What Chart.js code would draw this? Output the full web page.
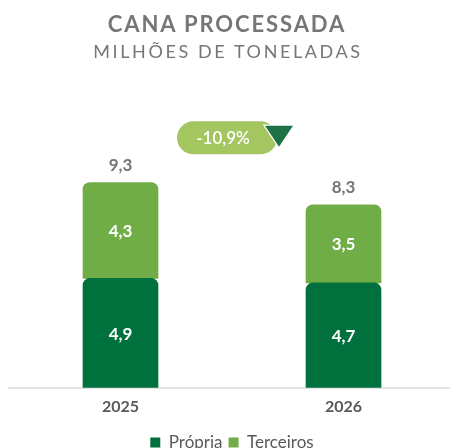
<!DOCTYPE html>
<html><head><meta charset="utf-8">
<script src="https://cdn.jsdelivr.net/npm/chart.js@4.4.1/dist/chart.umd.min.js"></script>
<style>
html,body{margin:0;padding:0;background:#fff;}
#wrap{position:relative;width:450px;height:448px;overflow:hidden;}
#t1{position:absolute;left:0;width:454px;top:10px;text-align:center;font-family:Lato,sans-serif;font-weight:700;font-size:22px;letter-spacing:1.9px;color:#767676;line-height:28px;}
#t2{position:absolute;left:0;width:456px;top:38px;text-align:center;font-family:Lato,sans-serif;font-weight:400;font-size:18px;letter-spacing:2.6px;color:#767676;line-height:26px;}
canvas{position:absolute;left:0;top:0;}
</style></head>
<body><div id="wrap">
<canvas id="c" width="460" height="448"></canvas>
<div id="t1">CANA PROCESSADA</div>
<div id="t2">MILHÕES DE TONELADAS</div>
</div>
<script>
const categories = ['2025', '2026'];
const propria = [4.9, 4.7];
const terceiros = [4.3, 3.5];
const totals = [9.3, 8.3];
const seriesNames = ['Própria', 'Terceiros'];
const changeLabel = '-10,9%';

const fmt = v => v.toFixed(1).replace('.', ',');

const labelPlugin = {
  id: 'labels',
  afterDatasetsDraw(chart) {
    const ctx = chart.ctx;
    ctx.save();
    ctx.textAlign = 'center';
    ctx.textBaseline = 'middle';
    ctx.font = '700 17px Lato';
    ctx.fillStyle = '#ffffff';
    chart.data.datasets.forEach((ds, di) => {
      const meta = chart.getDatasetMeta(di);
      meta.data.forEach((bar, i) => {
        const p = bar.getProps(['x', 'y', 'base'], true);
        ctx.fillText(fmt(ds.data[i]), p.x, (p.y + p.base) / 2 + 1);
      });
    });
    // totals
    const topMeta = chart.getDatasetMeta(chart.data.datasets.length - 1);
    ctx.font = '700 17px Lato';
    ctx.fillStyle = '#767676';
    topMeta.data.forEach((bar, i) => {
      const p = bar.getProps(['x', 'y'], true);
      ctx.fillText(fmt(totals[i]), p.x, p.y - 17);
    });
    // change badge
    const xs = chart.scales.x;
    const midX = (xs.getPixelForValue(0) + xs.getPixelForValue(1)) / 2;
    const cy = chart.scales.y.getPixelForValue(11.2);
    const l = midX - 55, r = midX + 45, h = 33, rad = 16.5;
    ctx.fillStyle = '#a3c661';
    ctx.beginPath();
    ctx.moveTo(l + rad, cy - h / 2);
    ctx.lineTo(r - rad, cy - h / 2);
    ctx.arc(r - rad, cy, rad, -Math.PI / 2, Math.PI / 2);
    ctx.lineTo(l + rad, cy + h / 2);
    ctx.arc(l + rad, cy, rad, Math.PI / 2, Math.PI * 1.5);
    ctx.closePath();
    ctx.fill();
    ctx.fillStyle = '#ffffff';
    ctx.font = '600 17px Lato';
    ctx.fillText(changeLabel, midX - 9, cy + 1);
    // triangle
    ctx.beginPath();
    ctx.moveTo(midX + 33, cy - 12);
    ctx.lineTo(midX + 61, cy - 12);
    ctx.lineTo(midX + 47, cy + 9);
    ctx.closePath();
    ctx.fillStyle = '#1e7145';
    ctx.strokeStyle = '#ffffff';
    ctx.lineWidth = 2.5;
    ctx.lineJoin = 'miter';
    ctx.stroke();
    ctx.fill();
    ctx.restore();
  }
};

new Chart(document.getElementById('c'), {
  type: 'bar',
  data: {
    labels: categories,
    datasets: [
      { label: seriesNames[0], data: propria, backgroundColor: '#00703c', borderRadius: {topLeft: 7, topRight: 7, bottomLeft: 0, bottomRight: 0}, borderSkipped: false, barThickness: 75 },
      { label: seriesNames[1], data: terceiros, backgroundColor: '#70ad47', borderRadius: {topLeft: 7, topRight: 7, bottomLeft: 0, bottomRight: 0}, borderSkipped: false, barThickness: 75 }
    ]
  },
  options: {
    responsive: false,
    animation: false,
    layout: { padding: { top: 120, left: 9, right: 5, bottom: -13 } },
    plugins: {
      legend: {
        position: 'bottom',
        labels: { boxWidth: 10, boxHeight: 10, padding: 6, color: '#595959', font: { family: 'Lato', size: 17 } }
      },
      tooltip: { enabled: false }
    },
    scales: {
      x: {
        stacked: true,
        grid: { display: false, drawTicks: false },
        border: { color: '#e3e3e3', width: 2 },
        ticks: { color: '#595959', padding: 9, font: { family: 'Lato', size: 16, weight: '700' } },
        afterFit(scale) { scale.height += 3; }
      },
      y: { stacked: true, display: false, min: 0, max: 12 }
    }
  },
  plugins: [labelPlugin]
});
</script>
</body></html>
